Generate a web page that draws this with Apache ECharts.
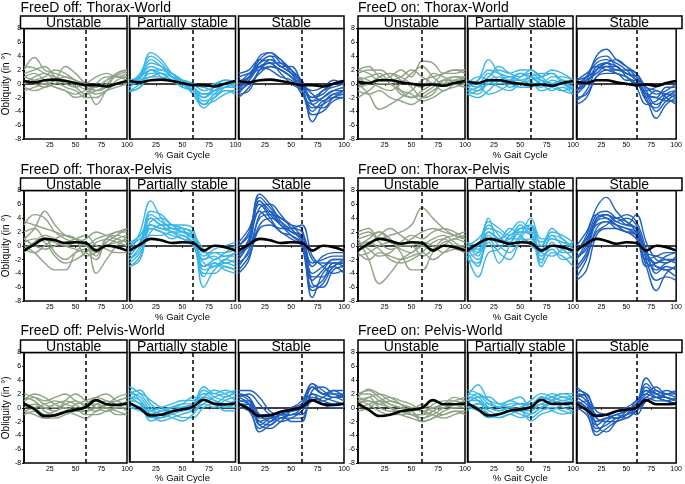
<!DOCTYPE html>
<html>
<head>
<meta charset="utf-8">
<script src="https://cdn.jsdelivr.net/npm/echarts@6/dist/echarts.min.js"></script>
<style>
  html, body { margin: 0; padding: 0; background: #fff; }
  #chart { width: 685px; height: 484px; }
</style>
</head>
<body>
<div id="chart"></div>
<script>
// % gait cycle sample points
var gaitPct = [0, 10, 20, 30, 40, 50, 60, 70, 80, 90, 100];
var phaseNames = ['Unstable', 'Partially stable', 'Stable'];
var yTicks = [-8, 8, 2];

// overall mean curves (black)
var meanOffTW = [0.4, 0.2, 0.5, 0.6, 0.4, 0.1, -0.2, -0.2, -0.4, 0.0, 0.4];
var meanOnTW = [0.3, 0.1, 0.5, 0.5, 0.2, 0.0, -0.2, -0.1, -0.3, 0.1, 0.4];
var meanOffTP = [-0.7, 0.2, 1.0, 0.8, 0.4, 0.5, 0.4, -0.7, 0.0, -0.2, -0.7];
var meanOnTP = [-0.7, 0.3, 1.0, 0.7, 0.3, 0.5, 0.4, -0.7, 0.0, -0.2, -0.7];
var meanOffPW = [0.6, -0.2, -1.2, -1.1, -0.6, -0.3, 0.1, 1.1, 0.5, 0.4, 0.6];
var meanOnPW = [0.6, -0.3, -1.2, -1.0, -0.5, -0.3, 0.0, 1.1, 0.5, 0.5, 0.6];

// FreeD off: Thorax-World
var offTWUnstable = [
  [2.5, 2.3, 1.5, 1.0, 0.5, 0.0, -0.8, -0.5, 0.5, 1.5, 2.0],
  [2.0, 3.8, 2.0, 1.5, 1.0, 0.5, -0.5, -1.0, 0.0, 1.2, 1.8],
  [1.0, 1.5, 0.5, -0.5, -1.0, -1.5, -1.0, -3.0, -1.0, 0.5, 1.0],
  [0.0, 0.5, 1.0, 2.0, 1.5, 0.5, 0.0, -1.0, -0.5, 1.5, 2.0],
  [-1.0, -0.5, 0.0, -0.5, -1.0, -2.0, -1.5, 0.0, 1.0, 1.0, 0.5],
  [0.5, 0.0, -0.5, 0.0, 0.5, -0.5, -1.5, -1.0, -0.5, 0.0, 0.5],
  [1.5, 2.0, 2.5, 1.0, 0.0, -0.5, 0.0, 1.0, 1.5, 1.0, 1.5],
  [-0.5, -1.0, -0.5, 0.5, 1.0, 0.5, -0.5, -1.5, -1.0, 0.0, 0.0],
  [1.0, 0.5, 0.0, 0.5, 2.5, 1.5, 0.0, -0.5, 0.5, 1.0, 1.0],
  [0.0, 1.0, 1.5, 0.5, -0.5, -1.0, -2.0, -2.0, -1.0, -0.5, 0.0]
];
var offTWPartial = [
  [0.0, 1.5, 4.0, 3.0, 1.0, 0.0, -1.5, -3.5, -2.0, -0.5, 0.0],
  [-0.5, 1.0, 3.5, 2.5, 1.0, 0.5, -1.0, -3.0, -1.5, -0.5, -0.5],
  [0.5, 1.0, 2.5, 2.0, 1.5, 0.5, -0.5, -2.0, -1.0, 0.0, 0.5],
  [-1.0, 0.0, 2.0, 2.0, 1.0, 0.0, -0.5, -1.5, -1.5, -1.0, -1.0],
  [0.0, 0.5, 1.5, 1.5, 1.0, 0.5, 0.0, -1.0, -0.5, 0.0, 0.0],
  [-1.2, -0.5, 1.0, 1.0, 0.5, -0.5, -1.0, -2.5, -2.0, -1.0, -1.5],
  [0.3, 0.8, 3.0, 2.5, 1.5, 0.0, -1.0, -2.0, -0.5, 0.5, 0.3],
  [-0.5, 0.5, 1.0, 1.5, 0.5, 0.0, 0.0, -0.5, -1.0, 0.0, -0.5],
  [0.0, 1.2, 4.5, 3.5, 1.5, 0.5, -1.5, -3.0, -2.5, -1.5, -1.0],
  [-1.0, -0.5, 2.0, 1.5, 0.5, -0.5, -1.0, -1.5, -1.0, -0.5, 0.0],
  [0.5, 1.0, 2.0, 1.0, 0.5, 0.5, 0.0, -0.5, 0.0, 0.5, 0.3]
];
var offTWStable = [
  [-1.0, 1.0, 3.5, 4.5, 3.0, 2.0, 0.5, -2.5, -2.0, -1.0, -0.5],
  [0.0, 1.5, 3.0, 4.0, 2.5, 2.5, 0.0, -3.0, -3.5, -2.0, -1.0],
  [1.5, 2.0, 3.5, 3.0, 2.0, 1.0, -0.5, -2.0, -1.5, 0.0, 0.5],
  [-2.0, -0.5, 2.0, 3.5, 2.5, 1.5, 0.0, -5.5, -3.0, -1.5, -1.5],
  [-1.5, 0.5, 2.5, 2.0, 1.0, 0.5, -1.0, -4.0, -2.5, -2.0, -2.0],
  [0.5, 1.0, 4.0, 4.5, 3.5, 2.0, 0.0, -1.0, -0.5, 0.5, 0.0],
  [-1.0, 0.0, 1.5, 2.5, 2.0, 1.0, -1.5, -3.0, -2.0, -1.0, -1.0],
  [0.0, 1.0, 3.0, 4.0, 3.5, 1.5, 0.5, -2.5, -1.0, 0.0, 0.5],
  [-0.5, 0.5, 2.5, 3.0, 1.5, 0.0, -1.0, -3.5, -3.0, -2.0, -1.5],
  [1.0, 1.5, 2.0, 2.5, 2.0, 1.0, 0.0, -1.5, -2.5, -1.5, -1.0],
  [-1.5, -1.0, 2.0, 3.0, 3.0, 2.0, 0.0, -2.0, -1.0, -0.5, 0.0],
  [-0.5, 1.0, 3.0, 3.5, 2.5, 1.5, -1.0, -4.5, -4.0, -2.5, -2.0]
];

// FreeD on: Thorax-World
var onTWUnstable = [
  [2.0, 1.5, 0.5, 1.0, 2.0, 1.0, 3.3, 3.0, 1.5, 1.5, 2.0],
  [0.0, -1.5, -3.7, -3.0, -2.0, -1.0, 0.5, 1.0, 1.5, 2.0, 1.5],
  [1.5, 2.0, 2.0, 1.0, -1.0, -2.0, -1.0, 0.0, 1.5, 2.0, 2.0],
  [-1.0, -1.5, -1.0, -2.0, -2.5, -3.0, -2.0, -1.0, 0.0, 1.0, 1.0],
  [1.0, 0.0, 1.0, 1.5, 0.5, -0.5, -2.0, -1.5, 0.5, 1.0, 0.5],
  [2.0, 2.5, 1.0, 0.5, 1.0, 2.0, 1.0, 0.0, -1.0, 0.0, 1.0],
  [0.5, 1.0, 1.5, 0.0, -1.0, -1.5, -2.5, -2.0, -1.0, -0.5, 0.0],
  [-0.5, 0.0, 1.0, 1.5, 1.0, 0.0, -0.5, 1.5, 1.0, 0.0, -0.5],
  [1.0, 0.5, -0.5, -1.0, 0.0, 1.5, 2.5, 1.0, 0.0, 0.5, 1.0],
  [-2.0, -1.0, 0.0, 0.0, -1.5, -2.0, -1.5, -0.5, 0.5, 0.5, 0.0]
];
var onTWPartial = [
  [-0.5, 0.5, 3.5, 1.5, 0.5, 0.5, 1.0, 0.5, 0.0, 0.0, -0.5],
  [0.0, -0.5, 1.0, 2.0, 1.5, 2.0, 2.0, 1.0, 1.5, 0.5, 0.0],
  [-1.0, -1.5, 0.5, 1.0, 0.0, 1.0, 1.5, 0.5, 0.0, -1.0, -1.5],
  [0.5, 0.0, -1.5, -1.0, 0.0, 1.5, 1.0, 0.0, 1.0, 1.0, 0.5],
  [-1.5, -2.0, -1.0, 0.5, 1.0, 0.5, 0.0, -0.5, 0.5, 0.0, -1.0],
  [0.0, 0.5, 2.0, 1.5, 1.0, 1.5, 0.5, -1.0, -0.5, 0.5, 0.0],
  [-0.5, -1.0, 0.0, 0.5, -0.5, 0.0, 1.0, 1.5, 1.5, 0.0, -0.5],
  [0.3, 0.0, 1.5, 0.5, 0.0, -0.5, -0.5, 0.5, -0.5, -1.0, -0.5],
  [-1.0, -0.5, 1.0, 2.5, 1.5, 1.0, 2.0, 1.0, 0.0, 0.5, -1.0],
  [0.0, 1.0, 0.5, -0.5, -1.0, 0.0, 0.5, 1.0, 2.0, 1.5, 0.5],
  [-1.5, -1.0, 0.0, 0.0, 0.5, 1.5, 1.0, 0.0, -1.0, -0.5, -1.5]
];
var onTWStable = [
  [-1.0, 0.5, 4.0, 5.0, 3.5, 2.5, 1.5, -1.0, -3.0, -2.0, -1.0],
  [0.0, 1.0, 3.0, 3.5, 3.0, 2.0, 0.5, -2.0, -5.0, -3.0, -2.0],
  [-2.5, -1.0, 2.0, 3.0, 2.5, 1.5, 1.0, -1.5, -2.0, -2.5, -2.5],
  [0.5, 1.5, 2.5, 2.0, 1.5, 1.0, 0.0, -1.0, -0.5, 0.0, 0.5],
  [-3.0, -2.0, 1.0, 2.0, 2.0, 1.5, 0.5, -2.5, -3.5, -1.5, -1.0],
  [-1.5, 0.0, 2.5, 3.0, 2.0, 2.0, 1.5, -0.5, -1.5, -1.0, 0.0],
  [0.0, 0.5, 1.5, 2.5, 2.5, 1.0, -0.5, -3.0, -2.5, -1.5, -1.5],
  [-1.0, 1.0, 3.5, 4.0, 2.5, 1.5, 1.0, -2.0, -1.0, -2.0, -3.0],
  [-2.0, -1.5, 1.0, 1.5, 1.5, 0.5, 0.5, -1.5, -2.0, -0.5, -0.5],
  [0.5, 1.0, 2.0, 3.0, 3.5, 2.5, 1.0, -0.5, -1.0, -1.5, -2.0],
  [-1.0, 0.0, 2.0, 2.5, 1.5, 1.0, 0.0, -1.5, -4.0, -2.5, -1.5]
];

// FreeD off: Thorax-Pelvis
var offTPUnstable = [
  [3.0, 4.5, 4.0, 2.0, 1.0, 0.5, 0.0, -1.0, 0.5, 1.5, 2.5],
  [1.0, 2.5, 5.0, 3.0, 1.5, 1.0, 0.5, -0.5, 0.0, 1.0, 1.5],
  [3.5, 3.0, 2.5, 2.0, 1.5, 1.0, 0.0, 1.0, 1.5, 2.0, 2.5],
  [0.0, -1.0, -2.5, -3.5, -3.5, -1.0, 0.5, -4.0, -2.0, 0.0, 1.0],
  [-0.5, 0.5, 1.0, -1.0, -2.0, -1.0, -0.5, -1.5, 1.0, 0.5, 0.0],
  [1.0, 0.0, -0.5, 0.0, 0.5, 1.0, 1.5, 0.0, -0.5, -1.0, -1.0],
  [-1.0, 0.5, 1.5, 1.0, 0.0, -0.5, -1.0, -2.0, 1.0, 1.5, 1.0],
  [0.5, 1.0, 0.5, -1.5, -2.5, -2.0, -1.0, 0.5, 1.0, 2.0, 2.0],
  [2.0, 2.5, 1.0, 0.5, 0.0, 0.5, 1.0, 2.0, 1.5, 1.0, 0.5],
  [-0.5, -1.0, 0.0, 1.0, 1.5, 1.0, -1.5, -1.0, 0.0, 0.5, 1.0]
];
var offTPPartial = [
  [-1.0, 2.0, 6.5, 4.0, 2.5, 2.5, 1.5, -3.0, -2.0, -1.5, -1.5],
  [-2.0, 0.0, 4.5, 3.5, 2.5, 2.0, 1.0, -6.0, -3.5, -2.5, -3.0],
  [0.5, 1.5, 4.0, 3.0, 3.0, 2.5, 2.0, -1.0, -1.0, -1.0, -0.5],
  [-3.0, -1.5, 3.0, 2.5, 2.0, 1.5, 0.5, -4.0, -4.0, -3.0, -3.5],
  [-1.5, 0.5, 3.5, 4.0, 3.0, 2.5, 0.0, -2.0, -1.5, -2.5, -2.0],
  [0.0, 1.0, 2.5, 2.0, 1.5, 1.0, 0.5, -1.5, -0.5, 0.0, 0.5],
  [-2.5, -1.0, 2.0, 3.0, 3.0, 3.0, 2.5, -3.5, -3.0, -2.0, -1.0],
  [-1.0, 0.5, 5.0, 4.5, 3.0, 2.0, 1.0, -4.5, -2.5, -3.5, -4.0],
  [-0.5, 0.0, 1.5, 1.5, 2.0, 2.0, 1.5, -0.5, -2.0, -1.0, 0.0],
  [-3.0, -2.0, 2.5, 2.0, 1.0, 1.5, 0.0, -2.5, -3.0, -2.0, -2.5],
  [0.0, 1.5, 3.0, 2.5, 2.5, 2.0, 1.0, -2.0, -1.0, -1.5, -1.0],
  [-2.0, -0.5, 4.0, 3.0, 2.0, 1.0, 0.0, -3.0, -2.5, -3.0, -3.5]
];
var offTPStable = [
  [-2.0, 1.0, 7.5, 6.0, 3.5, 2.0, 1.0, -4.0, -3.0, -2.0, -2.0],
  [0.0, 2.0, 7.0, 5.5, 4.0, 3.0, 2.5, -5.5, -6.0, -3.5, -3.0],
  [-4.0, -2.0, 4.5, 5.0, 3.0, 1.5, 0.0, -7.5, -4.0, -3.0, -4.0],
  [-1.0, 0.0, 6.5, 4.5, 3.0, 2.0, 1.5, -3.0, -1.5, -1.0, -1.0],
  [-3.0, -0.5, 4.0, 4.5, 4.0, 3.0, 1.0, -6.0, -5.0, -2.5, -2.5],
  [0.5, 2.5, 6.0, 4.0, 2.0, 1.5, 0.5, -2.5, -2.0, -1.5, -1.5],
  [-2.5, -1.0, 3.0, 4.0, 3.5, 2.5, 3.0, -1.5, -3.0, -4.0, -3.5],
  [-1.5, 1.0, 5.5, 6.0, 4.5, 2.5, 0.5, -5.0, -3.5, -2.0, -2.0],
  [-3.5, -1.5, 2.5, 3.0, 2.0, 1.0, 0.0, -4.5, -4.5, -3.0, -2.0],
  [0.0, 1.5, 5.0, 3.5, 2.5, 2.5, 2.0, -2.0, -2.5, -2.5, -3.0],
  [-2.0, 0.5, 6.5, 5.0, 3.0, 2.0, 1.0, -6.5, -5.5, -3.0, -2.5]
];

// FreeD on: Thorax-Pelvis
var onTPUnstable = [
  [1.0, -2.0, -5.5, -4.0, -2.0, -1.0, 0.0, 1.0, 1.5, 0.5, -0.5],
  [2.0, 2.5, 1.0, 1.5, 2.0, 3.0, 5.5, 4.0, 2.5, 1.5, 1.0],
  [0.0, 1.0, 2.0, 1.0, -1.0, -3.5, -3.5, -1.0, 0.0, 1.0, 0.5],
  [-1.0, -2.0, -1.0, -1.5, -2.0, -1.5, -1.0, -2.0, -1.0, 0.0, 0.0],
  [1.5, 2.0, 0.5, -0.5, 0.0, 1.0, 2.0, 2.5, 2.0, 1.5, 1.0],
  [-0.5, 0.0, 1.5, 2.5, 1.5, 0.5, 0.0, -0.5, 0.5, 1.0, 1.5],
  [0.5, -0.5, -1.5, -1.0, 0.5, 1.5, 1.0, 2.0, 2.5, 2.0, 1.0],
  [-1.5, -1.0, 0.0, 0.5, -0.5, -1.0, 0.5, 0.0, -1.0, -0.5, -1.0],
  [1.0, 1.5, 2.0, 0.5, 0.0, 0.0, -1.5, -0.5, 1.0, 1.5, 2.0],
  [0.0, 0.5, -0.5, -2.0, -2.5, -2.0, -1.0, 0.5, 1.0, 0.0, -0.5]
];
var onTPPartial = [
  [-1.0, -3.0, 2.0, 1.0, 2.0, 3.5, 2.0, -1.0, 1.5, 0.0, -1.0],
  [0.0, -1.0, 4.0, 0.5, 1.0, 2.5, 3.0, 0.0, 2.5, 1.0, -0.5],
  [-1.5, -4.5, -1.0, -0.5, 1.5, 2.0, 1.5, -2.0, 0.0, -0.5, -2.0],
  [0.5, 0.0, 3.0, 1.5, 0.0, 1.5, 4.0, 1.0, 1.0, 0.5, 0.0],
  [-2.0, -2.5, 1.0, -1.0, -2.0, 0.5, 1.0, -3.0, -1.0, -1.5, -3.0],
  [0.0, 1.0, 2.5, 2.0, 1.0, 1.0, 0.5, 0.0, 2.0, 1.5, 0.5],
  [-0.5, -2.0, 0.5, -2.5, 0.0, 2.5, 2.5, -1.5, -0.5, -2.0, -1.5],
  [-1.0, 0.0, 3.5, 2.5, 1.5, 3.0, 1.5, -0.5, 1.0, 0.5, 0.0],
  [0.5, -1.5, 1.5, 0.0, -1.0, 1.0, 3.0, -2.5, 0.5, -1.0, -1.0],
  [-1.5, -1.0, 2.0, 1.0, 0.5, 2.0, 2.0, 0.5, 1.5, 1.0, -0.5],
  [0.0, -0.5, 1.0, 1.0, 2.5, 1.5, 0.0, -1.0, -1.5, -0.5, 0.5]
];
var onTPStable = [
  [-1.0, 1.5, 5.5, 7.0, 5.0, 3.5, 2.5, -1.0, -2.5, -2.0, -2.0],
  [-3.0, -1.0, 3.5, 4.5, 4.0, 4.5, 3.5, -0.5, -4.0, -3.0, -3.5],
  [0.0, 2.0, 4.5, 4.0, 3.0, 2.5, 2.0, -2.0, -1.5, -1.0, -1.0],
  [-4.5, -2.0, 2.5, 3.5, 3.0, 2.5, 1.5, -3.0, -6.5, -4.0, -3.0],
  [-2.0, 0.0, 4.0, 4.5, 3.5, 3.0, 4.5, 0.5, -2.0, -2.5, -1.5],
  [-1.0, 1.0, 3.0, 3.5, 2.5, 2.0, 1.0, -2.5, -3.0, -3.5, -4.5],
  [-5.0, -3.5, 1.5, 2.5, 2.5, 2.0, 2.0, -1.5, -3.5, -2.5, -2.0],
  [-0.5, 1.0, 4.5, 5.0, 4.0, 3.5, 2.0, -1.0, -1.5, -2.0, -2.5],
  [-3.5, -1.5, 2.0, 3.0, 4.0, 3.0, 2.5, -2.0, -5.0, -4.5, -5.0],
  [-2.0, 0.5, 3.5, 4.0, 3.0, 2.0, 1.5, -3.0, -2.5, -1.5, -1.0],
  [-1.5, -0.5, 4.0, 4.5, 3.5, 4.0, 3.0, -1.0, -3.0, -3.5, -3.0]
];

// FreeD off: Pelvis-World
var offPWUnstable = [
  [2.0, 1.5, 0.5, 0.0, 0.5, 1.0, 0.0, -0.5, 0.5, 1.0, 1.5],
  [1.5, 1.0, -0.5, -1.0, -0.5, 0.5, 1.0, 1.5, 1.0, 0.5, 0.5],
  [-0.5, -1.0, -1.5, -1.0, -0.5, -1.0, -1.5, -0.5, 0.0, -0.5, -1.0],
  [1.0, 2.0, 1.5, 0.5, 0.0, -0.5, 0.5, 1.5, 2.0, 1.0, 0.5],
  [0.0, 0.5, 0.0, -0.5, 1.0, 2.0, 1.0, 0.0, -0.5, 0.0, 0.5],
  [-1.0, -0.5, -1.5, -1.5, -1.0, -0.5, -0.5, 0.5, 1.0, 0.5, -0.5],
  [1.5, 1.0, 0.0, 0.5, 1.0, 0.5, -0.5, 0.0, 0.5, 1.5, 2.0],
  [0.5, 0.0, -1.0, -0.5, 0.0, -0.5, 0.0, 1.0, 0.5, 0.0, 0.0],
  [-0.5, 0.0, 0.5, 1.0, 0.5, 0.0, -1.0, -1.0, -0.5, 0.0, 1.0],
  [1.0, 1.5, 1.0, 1.5, 2.0, 1.0, 0.5, 0.5, 0.0, -1.0, -1.0]
];
var offPWPartial = [
  [3.0, 2.0, 0.0, -1.0, 0.0, 0.5, 0.5, 2.0, 2.0, 1.5, 2.5],
  [2.5, 1.0, -1.5, -1.5, -1.0, -0.5, 0.0, 1.5, 1.0, 0.5, 1.0],
  [1.0, 0.5, -2.0, -1.5, -1.0, -1.5, -1.5, 0.0, 0.5, 0.0, 0.0],
  [2.0, 2.5, 0.5, -0.5, -0.5, 0.0, 0.5, 3.0, 2.0, 2.5, 2.0],
  [0.0, -0.5, -1.0, -0.5, 0.0, 0.0, -0.5, 1.0, 0.5, -0.5, -0.5],
  [1.5, 1.0, -1.0, -2.0, -1.5, -1.0, -0.5, 0.5, 1.5, 2.0, 2.5],
  [0.5, 0.0, -0.5, 0.0, 0.5, 1.0, 1.0, 2.5, 1.5, 1.0, 0.5],
  [2.0, 1.5, -0.5, -1.0, -1.5, -2.0, -1.0, 0.5, 0.0, 1.0, 1.5],
  [1.0, 2.0, 1.0, 0.0, -0.5, -0.5, 0.0, 1.5, 2.5, 2.0, 1.0],
  [0.0, 0.0, -1.5, -1.0, -0.5, 0.0, 0.5, 2.0, 1.0, 0.0, 0.5],
  [1.5, 0.5, -1.0, -0.5, 0.0, 0.5, 1.5, 1.0, 0.5, 1.5, 2.0]
];
var offPWStable = [
  [2.0, 1.5, -1.0, -2.0, -1.0, -0.5, 0.5, 3.5, 2.5, 1.5, 1.5],
  [1.5, 0.5, -3.5, -2.5, -1.5, -1.0, -0.5, 3.0, 2.0, 2.0, 2.0],
  [2.5, 2.5, 1.5, -0.5, -1.0, -1.0, 0.0, 1.5, 1.0, 0.5, 0.5],
  [0.5, 0.0, -2.0, -2.5, -1.5, -1.5, -1.5, 2.5, 3.0, 2.0, 1.5],
  [1.0, 1.0, -2.5, -1.5, -0.5, -0.5, 0.0, 1.0, 1.5, 2.5, 2.5],
  [2.0, 1.0, -1.5, -1.5, -1.0, -2.0, -2.0, 2.0, 1.5, 1.0, 0.5],
  [0.0, -0.5, -3.0, -2.0, -1.0, 0.0, 0.5, 2.0, 0.5, 0.0, 0.0],
  [1.5, 2.0, 0.5, -1.0, -1.5, -0.5, 0.0, 3.0, 2.0, 1.5, 2.0],
  [1.0, 0.5, -2.0, -1.5, -2.0, -1.5, -0.5, 1.5, 1.0, 1.5, 1.0],
  [2.0, 1.5, -1.0, -1.0, -0.5, 0.0, 1.0, 3.5, 2.0, 2.5, 1.5],
  [0.5, 0.5, -2.5, -3.0, -2.0, -1.0, -1.0, 1.0, 0.5, 0.5, 0.5]
];

// FreeD on: Pelvis-World
var onPWUnstable = [
  [2.0, 2.5, 1.5, 0.5, 0.0, -0.5, -1.5, -1.0, 0.0, 0.5, 1.0],
  [1.5, 2.7, 2.0, 1.0, 0.5, 0.0, -0.5, 0.0, 0.5, 1.0, 1.5],
  [0.5, 1.0, 0.5, 0.0, -1.0, -1.5, -2.0, -1.5, -1.0, -0.5, -0.5],
  [1.0, 1.5, 0.0, -0.5, -0.5, -1.0, -1.0, 0.5, 1.0, 1.0, 0.5],
  [0.0, 0.5, 1.0, 0.5, 0.0, -0.5, -2.0, -1.5, -0.5, 0.0, 0.0],
  [1.5, 1.0, 0.5, 1.0, 0.5, 0.0, 0.0, -0.5, -1.0, -0.5, -1.0],
  [-0.5, 0.0, 1.0, 1.5, 1.0, 0.5, -0.5, -1.0, -1.5, -1.0, -0.5],
  [0.5, 1.5, 2.0, 1.5, 0.5, -1.0, -1.5, -0.5, 0.5, 1.5, 1.0],
  [1.0, 0.5, -0.5, -1.0, -1.0, -0.5, 0.5, 0.0, 0.0, 0.5, 0.5],
  [2.0, 2.0, 1.0, 0.0, -0.5, -1.0, -1.0, -0.5, 0.5, 0.0, 0.5]
];
var onPWPartial = [
  [1.5, 3.3, 1.0, 0.0, 0.5, 0.5, 0.0, 1.5, 1.0, 1.5, 1.5],
  [2.0, 1.5, 0.0, -0.5, 0.0, 0.5, 0.5, 1.0, 1.5, 2.0, 2.0],
  [0.0, -0.5, -1.5, -1.0, -0.5, -1.0, -1.5, -0.5, 0.0, -0.5, -1.0],
  [1.0, 2.0, 1.0, 0.5, 1.0, 1.5, 0.0, 0.5, 1.0, 0.0, -0.5],
  [0.5, 0.0, -1.0, -1.5, -1.0, -0.5, -2.0, -1.0, -0.5, 0.5, 1.0],
  [2.5, 2.0, 0.5, 0.0, -0.5, 0.0, 1.0, 2.0, 1.5, 1.0, 1.5],
  [-0.5, 0.5, 0.0, -0.5, 0.0, -0.5, -1.0, 0.0, 0.5, 1.0, 0.5],
  [1.0, 1.0, -0.5, -1.0, -0.5, 0.0, 0.5, 1.0, 2.0, 1.5, 1.0],
  [0.5, 1.5, 1.5, 0.5, 0.0, -0.5, -0.5, 0.5, -0.5, -1.0, -0.5],
  [1.5, 1.0, -1.0, -1.5, -1.0, -1.5, -1.0, 0.0, 1.0, 2.0, 1.5],
  [0.0, 0.5, 0.5, 0.0, 1.0, 0.5, 0.5, 1.5, 1.0, 0.5, 0.0]
];
var onPWStable = [
  [2.0, 1.0, -2.0, -1.5, -1.0, -0.5, 0.5, 4.3, 2.5, 2.0, 1.5],
  [1.5, 2.0, -1.0, -1.0, -0.5, 0.0, 1.0, 2.5, 2.0, 1.5, 1.0],
  [3.0, 1.5, -3.0, -2.5, -1.5, -1.0, 0.0, 3.0, 2.0, 2.5, 2.0],
  [0.5, -0.5, -4.0, -3.0, -2.0, -1.5, -0.5, 1.5, 1.0, 1.0, 0.5],
  [1.0, 0.0, -2.5, -1.5, -1.0, -0.5, 0.5, 2.0, 3.0, 2.0, 2.5],
  [2.5, 2.0, -0.5, -1.0, -1.5, -1.0, -0.5, 1.0, 1.5, 1.0, 1.5],
  [0.0, -1.0, -3.5, -2.0, -1.0, -1.5, 0.0, 3.5, 2.0, 1.5, 1.0],
  [1.5, 0.5, -1.5, -2.0, -2.0, -1.0, 1.0, 2.0, 1.5, 2.0, 2.0],
  [2.0, 1.5, -2.5, -3.5, -2.0, -0.5, 0.5, 1.5, 2.5, 1.5, 1.0],
  [0.5, 1.0, -1.0, -1.0, -0.5, 0.0, -1.0, 1.0, 1.5, 1.5, 1.0],
  [1.0, 0.0, -2.0, -1.5, -1.5, -1.0, 0.0, 2.5, 1.5, 1.0, 0.5]
];

window.onload = function () {

    var chartDom = document.getElementById('chart');
    var myChart = echarts.init(chartDom);

    var phaseColors = ['#8fa386', '#38b6e8', '#1f5fc0'];
    var font = 'Liberation Sans, Arial, sans-serif';

    var groups = [
        { title: 'FreeD off: Thorax-World', col: 0, row: 0, mean: meanOffTW, sets: [offTWUnstable, offTWPartial, offTWStable] },
        { title: 'FreeD on: Thorax-World', col: 1, row: 0, mean: meanOnTW, sets: [onTWUnstable, onTWPartial, onTWStable] },
        { title: 'FreeD off: Thorax-Pelvis', col: 0, row: 1, mean: meanOffTP, sets: [offTPUnstable, offTPPartial, offTPStable] },
        { title: 'FreeD on: Thorax-Pelvis', col: 1, row: 1, mean: meanOnTP, sets: [onTPUnstable, onTPPartial, onTPStable] },
        { title: 'FreeD off: Pelvis-World', col: 0, row: 2, mean: meanOffPW, sets: [offPWUnstable, offPWPartial, offPWStable] },
        { title: 'FreeD on: Pelvis-World', col: 1, row: 2, mean: meanOnPW, sets: [onPWUnstable, onPWPartial, onPWStable] }
    ];

    // panel boxes [left, width] per column / subpanel
    var colBoxes = [
        [[20.5, 106.5], [129.5, 106], [238.5, 105.5]],
        [[358, 107], [467.5, 105.5], [576.5, 105.5]]
    ];
    var rowTop = [28.5, 190.5, 352.5];
    var titleY = [8, 170, 331];
    var plotH = 110.5;
    var headH = 12.5;

    function pts(vals) {
        return vals.map(function (v, i) { return [gaitPct[i], v]; });
    }

    var grid = [], xAxis = [], yAxis = [], series = [], graphic = [];

    groups.forEach(function (g) {
        graphic.push({
            type: 'text', left: colBoxes[g.col][0][0], top: titleY[g.row] - 7,
            style: { text: g.title, font: '14px ' + font, fill: '#000' }
        });
        for (var s = 0; s < 3; s++) {
            var idx = grid.length;
            var box = colBoxes[g.col][s];
            var top = rowTop[g.row];
            grid.push({
                left: box[0], top: top, width: box[1], height: plotH,
                show: true, borderColor: '#000', borderWidth: 1.5, backgroundColor: '#fff'
            });
            xAxis.push({
                type: 'value', gridIndex: idx, min: 0, max: 100, interval: 25,
                axisLine: { show: true, lineStyle: { color: '#000', width: 1.5 } },
                axisTick: { show: true, length: 2, lineStyle: { color: '#000' } },
                axisLabel: { showMinLabel: false, fontSize: 7, margin: 3, color: '#000', fontFamily: font },
                splitLine: { show: false },
                name: (s === 1) ? '% Gait Cycle' : '',
                nameLocation: 'middle', nameGap: 10,
                nameTextStyle: { fontSize: 9.5, color: '#000', fontFamily: font }
            });
            yAxis.push({
                type: 'value', gridIndex: idx, min: yTicks[0], max: yTicks[1], interval: yTicks[2],
                axisLine: { show: true, lineStyle: { color: '#000', width: 1.5 } },
                axisTick: { show: s === 0, length: 2, lineStyle: { color: '#000' } },
                axisLabel: { show: s === 0, fontSize: 7, margin: 3, color: '#000', fontFamily: font },
                splitLine: { show: false },
                name: (s === 0 && g.col === 0) ? 'Obliquity (in °)' : '',
                nameLocation: 'middle', nameGap: 11,
                nameTextStyle: { fontSize: 10, color: '#000', fontFamily: font }
            });
            // strip header
            graphic.push({
                type: 'rect', z: 10,
                shape: { x: box[0], y: top - headH, width: box[1], height: headH },
                style: { fill: '#fff', stroke: '#000', lineWidth: 1.5 }
            });
            graphic.push({
                type: 'text', z: 11,
                x: box[0] + box[1] / 2, y: top - headH / 2 + 0.5,
                style: { text: phaseNames[s], font: '14px ' + font, fill: '#000', align: 'center', verticalAlign: 'middle' }
            });

            g.sets[s].forEach(function (line) {
                series.push({
                    type: 'line', xAxisIndex: idx, yAxisIndex: idx, data: pts(line),
                    smooth: 0.4, showSymbol: false, silent: true,
                    lineStyle: { color: phaseColors[s], width: 1.4 }, z: 2
                });
            });
            series.push({
                type: 'line', xAxisIndex: idx, yAxisIndex: idx, data: pts(g.mean),
                smooth: 0.4, showSymbol: false, silent: true,
                lineStyle: { color: '#000', width: 2.6 }, z: 4,
                markLine: {
                    silent: true, symbol: ['none', 'none'], label: { show: false },
                    lineStyle: { color: '#000', type: [4, 3], width: 1.5 },
                    data: [{ xAxis: 60 }]
                }
            });
        }
    });

    var option = {
        animation: false,
        backgroundColor: '#fff',
        grid: grid,
        xAxis: xAxis,
        yAxis: yAxis,
        series: series,
        graphic: graphic
    };

    option && myChart.setOption(option);

    window.addEventListener('resize', function () {
        myChart.resize();
    });

}
</script>
</body>
</html>
